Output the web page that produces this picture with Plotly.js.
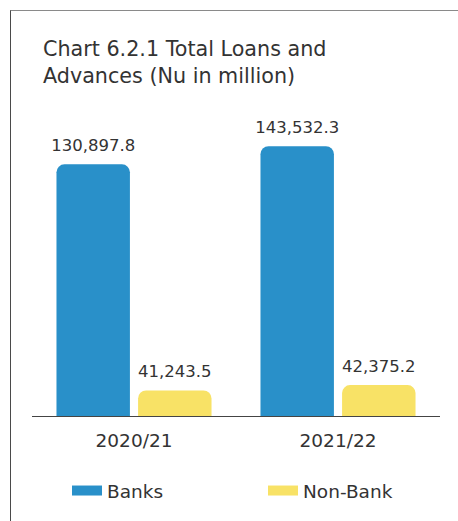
<!DOCTYPE html>
<html>
<head>
<meta charset="utf-8">
<script src="https://cdn.plot.ly/plotly-3.0.1.min.js"></script>
<style>
  html, body { margin: 0; padding: 0; background: #fff; }
  #wrap { position: relative; width: 458px; height: 521px; }
  #chart { width: 458px; height: 521px; }
  #frame { position: absolute; left: 10px; top: 10px; width: 460px; height: 520px;
           border-top: 1.5px solid #8a8a8a; border-left: 1.5px solid #4a4a4a;
           pointer-events: none; box-sizing: border-box; }
</style>
</head>
<body>
<div id="wrap">
  <div id="chart"></div>
  <div id="frame"></div>
</div>
<script>
// ---- data ----
const years = ["2020/21", "2021/22"];
const banks = [130897.8, 143532.3];
const nonBank = [41243.5, 42375.2];
const seriesNames = ["Banks", "Non-Bank"];
const titleText = "Chart 6.2.1 Total Loans and<br>Advances (Nu in million)";

// ---- style ----
const FONT = "DejaVu Sans, sans-serif";
const TXT = "#333333";
const BLUE = "#2990C9";
const YELLOW = "#F8E266";
// invisible spacer that lifts the outside bar labels a little higher above the bar
const PAD = '<span style="font-size:44px">\u00A0</span>';

function fmt(v) {
  return v.toLocaleString("en-US", {minimumFractionDigits: 1, maximumFractionDigits: 1});
}

const barCommon = {
  type: "bar",
  textposition: "outside",
  constraintext: "none",
  cliponaxis: false,
  texttemplate: PAD + "%{text}" + PAD,
  textfont: {family: FONT, size: 16.5, color: TXT},
  hoverinfo: "skip",
  showlegend: false
};

const traces = [
  Object.assign({}, barCommon, {
    name: seriesNames[0], x: years, y: banks, text: banks.map(fmt),
    marker: {color: BLUE, cornerradius: 8}
  }),
  Object.assign({}, barCommon, {
    name: seriesNames[1], x: years, y: nonBank, text: nonBank.map(fmt),
    marker: {color: YELLOW, cornerradius: 8}
  }),
  // legend entries (wide swatches)
  {type: "scatter", mode: "lines", x: [null], y: [null], name: seriesNames[0],
   line: {color: BLUE, width: 14}, hoverinfo: "skip", legend: "legend"},
  {type: "scatter", mode: "lines", x: [null], y: [null], name: seriesNames[1],
   line: {color: YELLOW, width: 14}, hoverinfo: "skip", legend: "legend2"}
];

const yBottom = 4.5585;
const legendCommon = {
  orientation: "h",
  xref: "container", yref: "container",
  xanchor: "left", yanchor: "middle",
  font: {family: FONT, size: 18.5, color: TXT},
  bgcolor: "rgba(0,0,0,0)"
};

const layout = {
  width: 458, height: 521,
  margin: {l: 32, r: 18, t: 130, b: 105, autoexpand: false},
  paper_bgcolor: "#ffffff", plot_bgcolor: "#ffffff",
  font: {family: FONT, color: TXT},
  title: {
    text: titleText,
    font: {family: FONT, size: 20.7, color: TXT},
    xref: "container", yref: "container",
    x: 43 / 458, xanchor: "left",
    y: 1 - 56 / 521, yanchor: "top"
  },
  barmode: "group",
  bargap: 0.2,
  bargroupgap: 0.1,
  xaxis: {
    type: "category",
    showline: true, linecolor: "#444444", linewidth: 1.2,
    ticks: "", showgrid: false, zeroline: false,
    tickfont: {family: FONT, size: 18.5, color: TXT},
    ticklabelstandoff: 8
  },
  yaxis: {
    type: "log", visible: false, showgrid: false, zeroline: false,
    range: [yBottom, yBottom + 286 / 450.7]
  },
  showlegend: true,
  legend: Object.assign({}, legendCommon, {x: 67 / 458, y: 1 - 491 / 521}),
  legend2: Object.assign({}, legendCommon, {x: 263 / 458, y: 1 - 491 / 521})
};

Plotly.newPlot("chart", traces, layout, {staticPlot: true, displayModeBar: false});
</script>
</body>
</html>
